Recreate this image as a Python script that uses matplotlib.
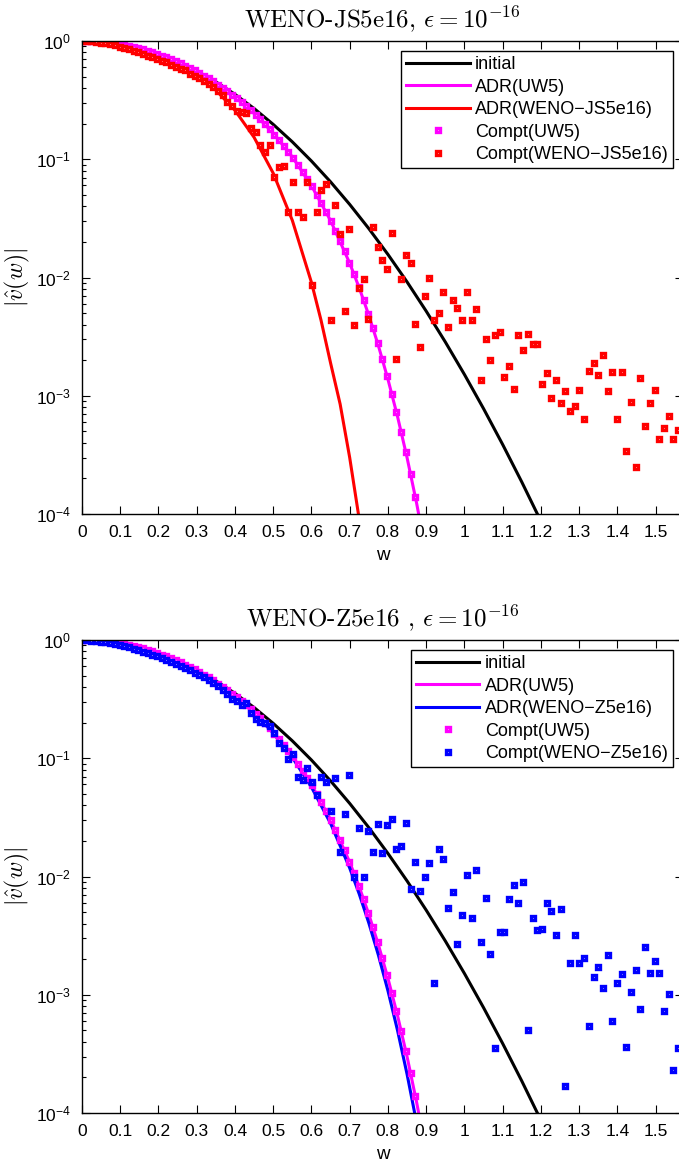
import numpy as np
import matplotlib
matplotlib.use('Agg')
import matplotlib.pyplot as plt
from matplotlib.ticker import MultipleLocator, FuncFormatter

plt.rcParams['font.family'] = ['Liberation Sans', 'DejaVu Sans']

# frequency grid of the computed spectra (dw = pi/256)
w_compt = np.arange(129) * np.pi / 256

# initial spectrum
w_init = [0.0, 0.05, 0.1, 0.15, 0.2, 0.25, 0.3, 0.35, 0.4, 0.45, 0.5, 0.55, 0.6,
          0.65, 0.7, 0.75, 0.8, 0.85, 0.9, 0.95, 1.0, 1.05, 1.1, 1.15, 1.2]
initial = [1.0, 0.9839, 0.9371, 0.8641, 0.7713, 0.6664, 0.5574, 0.4514, 0.3539,
           0.2685, 0.1972, 0.1403, 0.09656, 0.06435, 0.04151, 0.02593, 0.01567,
           0.009175, 0.005197, 0.002851, 0.001514, 7.78e-4, 3.87e-4, 1.865e-4, 8.69e-5]

# ADR curves
w_adr = [0.0, 0.05, 0.1, 0.15, 0.2, 0.25, 0.3, 0.35, 0.4, 0.45, 0.5, 0.55, 0.6,
         0.65, 0.7, 0.725, 0.75, 0.775, 0.8, 0.825, 0.85, 0.875, 0.9]
adr_uw5 = [1.0, 0.9839, 0.9371, 0.8640, 0.7706, 0.6640, 0.5521, 0.4411, 0.3370,
           0.2442, 0.1661, 0.1046, 0.05977, 0.03029, 0.01322, 0.008168, 0.004791,
           0.002654, 0.001379, 6.69e-4, 3.0e-4, 1.233e-4, 4.63e-5]
adr_z5 = [1.0, 0.9839, 0.9371, 0.8640, 0.7706, 0.6640, 0.5521, 0.4411, 0.3353,
          0.2419, 0.1633, 0.1015, 0.05697, 0.02810, 0.01179, 0.007105, 0.004046,
          0.002166, 0.001082, 5.01e-4, 2.13e-4, 8.24e-5, 2.9e-5]
w_adr_js = [0.0, 0.05, 0.1, 0.15, 0.2, 0.25, 0.3, 0.35, 0.4, 0.45, 0.5, 0.55, 0.6,
            0.625, 0.65, 0.675, 0.7, 0.725]
adr_js5 = [1.0, 0.9839, 0.9369, 0.8621, 0.7638, 0.6470, 0.5177, 0.3848, 0.2593,
           0.1532, 0.07625, 0.03039, 0.009086, 0.004358, 0.001892, 8.5e-4,
           3.0e-4, 9.0e-5]

# computed spectra
compt_uw5 = [1.0, 0.999, 0.996, 0.991, 0.984, 0.976, 0.965, 0.953, 0.939, 0.924,
             0.907, 0.888, 0.869, 0.848, 0.826, 0.802, 0.779, 0.754, 0.729, 0.703,
             0.674, 0.647, 0.620, 0.592, 0.564, 0.537, 0.509, 0.482, 0.455, 0.428,
             0.402, 0.377, 0.351, 0.327, 0.303, 0.280, 0.2585, 0.2372, 0.2169, 0.1975,
             0.1791, 0.1617, 0.1453, 0.1299, 0.1155, 0.1022, 0.0899, 0.0785, 0.0682, 0.0589,
             0.0501, 0.0428, 0.0361, 0.0301, 0.02494, 0.02048, 0.01661, 0.01334, 0.01061, 0.00833,
             0.00640, 0.00495, 0.00373, 0.00278, 0.00203, 0.00147, 0.00104, 7.29e-4, 4.98e-4, 3.34e-4,
             2.19e-4, 1.38e-4, 8.8e-5]

compt_js5 = [1.0, 0.998, 0.991, 0.982, 0.971, 0.955, 0.937, 0.918, 0.897, 0.875,
             0.851, 0.828, 0.813, 0.776, 0.752, 0.728, 0.708, 0.679, 0.661, 0.631,
             0.605, 0.581, 0.569, 0.531, 0.506, 0.482, 0.457, 0.433, 0.407, 0.380,
             0.347, 0.307, 0.282, 0.257, 0.251, 0.245, 0.183, 0.171, 0.132, 0.116,
             0.132, 0.0713, 0.0861, 0.0871, 0.0355, 0.0646, 0.0355, 0.0324, 0.0646, 0.00871,
             0.0355, 0.0550, 0.0617, 0.00437, 0.0407, 0.0234, 0.00525, 0.0257, 0.00398, 0.00813,
             0.00977, 0.00447, 0.0269, 0.0182, 0.0141, 0.0117, 0.0240, 0.00204, 0.00977, 0.0155,
             0.0132, 0.00407, 0.00257, 0.00692, 0.0100, 0.00437, 0.00501, 0.00759, 0.00380, 0.00646,
             0.00550, 0.00437, 0.00759, 0.00437, 0.00537, 0.00135, 0.00302, 0.00200, 0.00324, 0.00347,
             0.00145, 0.00178, 0.00115, 0.00324, 0.00245, 0.00331, 0.00275, 0.00275, 0.00126, 0.00155,
             9.55e-4, 0.00135, 8.71e-4, 0.00110, 7.41e-4, 8.13e-4, 0.00112, 6.31e-4, 0.00162, 0.00191,
             0.00151, 0.00219, 0.00110, 0.00158, 6.31e-4, 0.00158, 3.39e-4, 8.91e-4, 2.51e-4, 0.00141,
             5.50e-4, 8.71e-4, 0.00112, 4.27e-4, 5.37e-4, 6.76e-4, 4.27e-4, 5.13e-4, 0.00115]

compt_z5 = [1.0, 0.995, 0.986, 0.977, 0.966, 0.953, 0.940, 0.923, 0.906, 0.887,
            0.865, 0.839, 0.820, 0.791, 0.771, 0.748, 0.726, 0.703, 0.679, 0.656,
            0.631, 0.607, 0.581, 0.556, 0.531, 0.507, 0.482, 0.457, 0.434, 0.406,
            0.378, 0.352, 0.316, 0.302, 0.282, 0.295, 0.240, 0.214, 0.204, 0.197,
            0.186, 0.164, 0.135, 0.123, 0.0977, 0.108, 0.0698, 0.0661, 0.0832, 0.0631,
            0.0490, 0.0692, 0.0631, 0.0361, 0.0676, 0.0160, 0.0336, 0.0721, 0.00984, 0.0255,
            0.00984, 0.0244, 0.0162, 0.0276, 0.0158, 0.0273, 0.0304, 0.0170, 0.0182, 0.0282,
            0.00783, 0.0133, 0.00759, 0.0100, 0.0129, 0.00126, 0.0170, 0.0140, 0.00538, 0.00735,
            0.00270, 0.00472, 0.0103, 0.00449, 0.0114, 0.00281, 0.00653, 0.00222, 3.52e-4, 0.00342,
            0.00337, 0.00641, 0.00847, 0.00597, 0.00893, 5.04e-4, 0.00443, 0.00352, 0.00357, 0.00593,
            0.00507, 0.00320, 0.00527, 1.70e-4, 0.00187, 0.00320, 0.00187, 0.00206, 5.47e-4, 0.00140,
            0.00173, 0.00113, 0.00215, 5.96e-4, 0.00126, 0.00151, 3.59e-4, 0.00106, 0.00162, 7.53e-4,
            0.00255, 0.00154, 0.00194, 0.00152, 7.29e-4, 0.00102, 2.31e-4, 3.52e-4, 0.00131]

W, H = 679.0, 1163.0
fig = plt.figure(figsize=(W / 100, H / 100), dpi=100)


def panel(top_px, adr_w, adr_v, compt_v, color, scheme, title):
    ax = fig.add_axes([82 / W, (H - top_px - 473) / H, 600.7 / W, 473 / H])
    ax.plot(w_init, initial, color='k', lw=2.2, label='initial')
    ax.plot(w_adr, adr_uw5, color='#ff00ff', lw=2.2, label='ADR(UW5)')
    ax.plot(adr_w, adr_v, color=color, lw=2.2, label='ADR(' + scheme + ')')
    ax.plot(w_compt[:len(compt_uw5)], compt_uw5, ls='none', marker='s', ms=3.5, mew=2.4,
            mec='#ff00ff', mfc='white', label='Compt(UW5)')
    ax.plot(w_compt[:len(compt_v)], compt_v, ls='none', marker='s', ms=3.5, mew=2.4,
            mec=color, mfc='white', label='Compt(' + scheme + ')')

    ax.set_yscale('log')
    ax.set_xlim(0, np.pi / 2)
    ax.set_ylim(1e-4, 1)
    ax.xaxis.set_major_locator(MultipleLocator(0.1))
    ax.xaxis.set_major_formatter(FuncFormatter(lambda v, p: '%g' % round(v, 1)))
    ax.tick_params(which='both', direction='in', top=True, right=True, width=0.8, labelsize=12.5)
    ax.tick_params(which='major', length=6)
    ax.tick_params(which='minor', length=3)
    ax.tick_params(axis='x', pad=8)
    ax.tick_params(axis='y', pad=8)
    for s in ax.spines.values():
        s.set_linewidth(1.0)

    ax.set_title(title, fontsize=18, fontfamily=['cmr10', 'DejaVu Serif'],
                 math_fontfamily='cm', pad=9)
    ax.set_ylabel(r'$|\hat{v}(w)|$', fontsize=17, math_fontfamily='cm')
    ax.yaxis.set_label_coords(-0.083, 0.5)
    ax.set_xlabel('w', fontsize=13.5, labelpad=5)

    leg = ax.legend(loc='upper right', bbox_to_anchor=(0.984, 0.979), fontsize=13,
                    numpoints=1, handlelength=3.5, handletextpad=0.3, labelspacing=0.3,
                    borderpad=0.3, borderaxespad=0, fancybox=False, framealpha=1,
                    edgecolor='black')
    leg.get_frame().set_linewidth(1.0)
    return ax


panel(41, w_adr_js, adr_js5, compt_js5, '#ff0000', 'WENO\u2212JS5e16',
      r'WENO-JS5e16, $\epsilon = 10^{-16}$')
panel(640, w_adr, adr_z5, compt_z5, '#0000ff', 'WENO\u2212Z5e16',
      r'WENO-Z5e16 , $\epsilon = 10^{-16}$')

fig.savefig('out.png', dpi=100)
